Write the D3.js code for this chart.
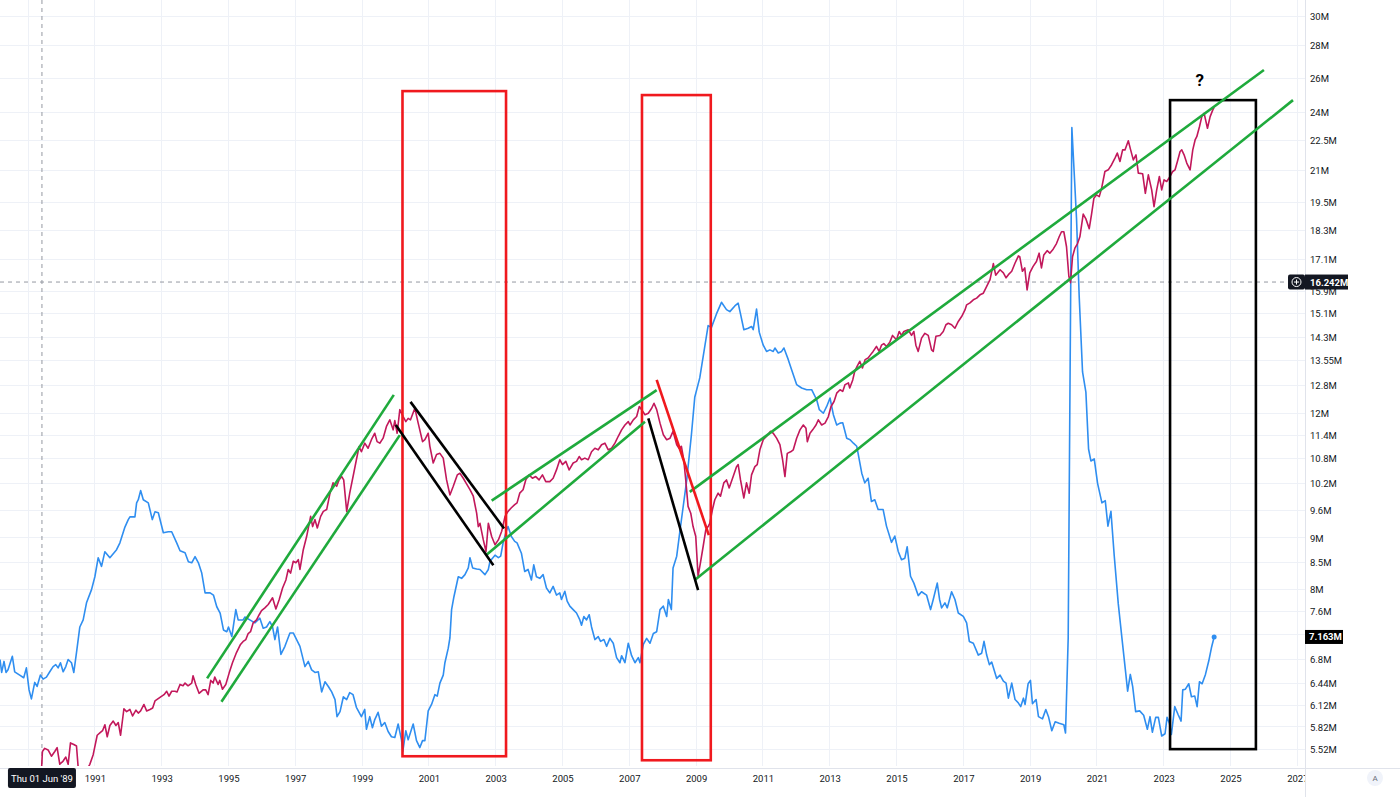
<!DOCTYPE html>
<html><head><meta charset="utf-8">
<script src="https://cdn.jsdelivr.net/npm/d3@7"></script>
<style>
html,body{margin:0;padding:0;background:#fff;}
svg{display:block;}
text{font-family:"Trebuchet MS",Roboto,"Liberation Sans",sans-serif;}
</style></head><body>
<svg id="chart" width="1400" height="797"></svg>
<script>
// ---------- data ----------
const xDomain = [1988.16, 2027.23];          // decimal years
const yDomain = [5.319, 31.13];               // millions, log scale
const xTickYears = [1989,1991,1993,1995,1997,1999,2001,2003,2005,2007,2009,2011,2013,2015,2017,2019,2021,2023,2025,2027];
const xHiddenLabels = [1989];                 // covered by the crosshair date badge
const yTickValues = [5.52,5.82,6.12,6.44,6.8,7.2,7.6,8,8.5,9,9.6,10.2,10.8,11.4,12,12.8,13.55,14.3,15.1,15.9,17.1,18.3,19.5,21,22.5,24,26,28,30];
const yHiddenLabels = [7.2];                  // covered by the last-value badge

const blueSeries = [
[1988.16,6.80],[1988.21,6.60],[1988.28,6.77],[1988.34,6.60],[1988.40,6.64],[1988.53,6.85],[1988.60,6.61],[1988.75,6.56],[1988.87,6.52],[1988.95,6.67],
[1989.03,6.34],[1989.10,6.21],[1989.20,6.45],[1989.27,6.39],[1989.37,6.56],[1989.45,6.50],[1989.55,6.53],[1989.65,6.61],[1989.75,6.69],[1989.83,6.72],[1989.90,6.67],[1989.97,6.75],
[1990.05,6.61],[1990.13,6.69],[1990.20,6.80],[1990.30,6.75],[1990.37,6.60],[1990.45,6.91],[1990.55,7.33],[1990.65,7.45],[1990.75,7.75],[1990.90,7.99],
[1991.00,8.23],[1991.10,8.60],[1991.20,8.43],[1991.30,8.72],[1991.45,8.60],[1991.65,8.76],[1991.75,8.90],[1991.90,9.23],
[1992.00,9.39],[1992.05,9.45],[1992.20,9.45],[1992.25,9.76],[1992.30,9.83],[1992.37,10.04],[1992.45,9.83],[1992.60,9.76],[1992.72,9.39],[1992.80,9.56],[1992.90,9.54],
[1993.05,9.11],[1993.20,9.13],[1993.30,9.13],[1993.45,8.90],[1993.55,8.74],[1993.70,8.70],[1993.80,8.52],[1993.90,8.50],
[1994.00,8.62],[1994.10,8.50],[1994.20,8.30],[1994.30,7.93],[1994.45,7.93],[1994.55,7.89],[1994.65,7.68],[1994.75,7.57],[1994.85,7.28],[1994.95,7.25],
[1995.00,7.33],[1995.10,7.17],[1995.22,7.63],[1995.29,7.45],[1995.44,7.45],[1995.49,7.50],[1995.64,7.45],[1995.79,7.40],[1995.94,7.48],
[1996.04,7.31],[1996.14,7.33],[1996.24,7.42],[1996.32,7.33],[1996.39,7.12],[1996.47,7.33],[1996.57,6.88],[1996.69,7.01],[1996.84,7.23],[1996.94,7.23],
[1997.04,7.12],[1997.14,7.01],[1997.29,6.69],[1997.39,6.77],[1997.49,6.64],[1997.59,6.60],[1997.69,6.61],[1997.79,6.31],[1997.89,6.46],[1997.99,6.39],
[1998.09,6.31],[1998.19,6.20],[1998.25,5.96],[1998.34,6.03],[1998.44,6.24],[1998.54,6.20],[1998.63,6.30],[1998.73,6.27],[1998.83,6.09],[1998.98,5.96],
[1999.08,6.06],[1999.13,5.79],[1999.23,5.96],[1999.31,5.81],[1999.38,5.92],[1999.48,6.02],[1999.58,5.83],[1999.68,5.88],[1999.78,5.76],[1999.88,5.69],[1999.98,5.68],
[2000.08,5.86],[2000.18,5.65],[2000.22,5.50],[2000.31,5.77],[2000.38,5.65],[2000.53,5.86],[2000.63,5.64],[2000.73,5.55],[2000.81,5.64],[2000.88,5.64],[2000.98,6.04],
[2001.08,6.13],[2001.18,6.27],[2001.25,6.25],[2001.33,6.44],[2001.43,6.56],[2001.48,6.75],[2001.58,6.98],[2001.63,7.15],[2001.68,7.63],[2001.75,7.86],[2001.88,8.23],[2001.98,8.20],
[2002.08,8.27],[2002.18,8.40],[2002.23,8.60],[2002.31,8.40],[2002.43,8.38],[2002.53,8.37],[2002.68,8.27],[2002.78,8.37],[2002.83,8.53],[2002.98,8.65],
[2003.08,8.60],[2003.15,8.63],[2003.23,8.93],[2003.33,9.17],[2003.37,9.24],[2003.47,9.03],[2003.57,8.93],[2003.64,8.90],[2003.77,8.69],[2003.87,8.33],[2003.97,8.37],
[2004.07,8.17],[2004.14,8.46],[2004.22,8.23],[2004.32,8.20],[2004.42,8.27],[2004.52,8.02],[2004.62,7.93],[2004.72,8.05],[2004.82,7.89],[2004.92,7.93],[2004.97,7.81],
[2005.07,7.96],[2005.14,7.78],[2005.22,7.69],[2005.32,7.63],[2005.42,7.57],[2005.52,7.45],[2005.57,7.36],[2005.64,7.51],[2005.72,7.45],[2005.80,7.54],[2005.87,7.33],[2005.97,7.12],
[2006.07,7.17],[2006.14,7.09],[2006.24,7.12],[2006.32,7.01],[2006.42,7.14],[2006.52,7.06],[2006.62,6.83],[2006.72,6.75],[2006.77,6.86],[2006.87,6.75],[2006.97,7.06],
[2007.07,6.86],[2007.17,6.75],[2007.27,6.83],[2007.32,6.75],[2007.42,7.04],[2007.52,7.14],[2007.62,7.06],[2007.72,7.22],[2007.82,7.25],[2007.92,7.63],
[2008.02,7.69],[2008.12,7.51],[2008.17,7.81],[2008.26,7.63],[2008.31,8.40],[2008.42,8.63],[2008.51,9.11],[2008.60,9.60],[2008.72,10.29],[2008.86,11.42],[2008.96,12.45],
[2009.11,13.02],[2009.25,13.93],[2009.36,14.69],[2009.46,14.63],[2009.61,15.09],[2009.76,15.50],[2009.91,15.24],
[2010.01,15.17],[2010.16,15.37],[2010.26,15.47],[2010.33,15.09],[2010.43,14.55],[2010.56,14.60],[2010.66,14.66],[2010.71,14.55],[2010.81,15.26],[2010.89,14.47],
[2011.01,14.04],[2011.11,13.84],[2011.21,13.89],[2011.31,13.84],[2011.36,13.95],[2011.46,13.79],[2011.56,13.84],[2011.63,13.95],[2011.76,13.58],[2011.86,13.27],
[2012.01,12.82],[2012.16,12.72],[2012.31,12.67],[2012.46,12.67],[2012.61,12.38],[2012.69,12.10],[2012.81,12.00],[2012.91,12.19],
[2013.01,12.43],[2013.11,11.96],[2013.21,11.68],[2013.31,11.73],[2013.39,11.74],[2013.51,11.33],[2013.61,11.29],[2013.71,11.20],[2013.81,11.12],[2013.85,10.94],[2013.96,10.45],
[2014.05,10.22],[2014.15,10.33],[2014.25,9.79],[2014.35,9.83],[2014.45,9.61],[2014.60,9.61],[2014.70,9.25],[2014.85,8.91],[2014.95,9.04],
[2015.05,8.73],[2015.15,8.56],[2015.25,8.59],[2015.32,8.82],[2015.42,8.24],[2015.52,8.11],[2015.65,7.88],[2015.75,7.95],[2015.90,7.89],
[2016.02,7.63],[2016.10,7.81],[2016.22,8.11],[2016.29,7.81],[2016.35,7.66],[2016.45,7.75],[2016.52,7.66],[2016.65,7.95],[2016.75,7.81],[2016.85,7.57],
[2017.00,7.51],[2017.10,7.40],[2017.18,7.09],[2017.30,7.06],[2017.45,6.87],[2017.55,6.90],[2017.62,7.09],[2017.70,6.87],[2017.78,6.72],[2017.85,6.76],
[2018.00,6.51],[2018.10,6.56],[2018.20,6.47],[2018.28,6.44],[2018.35,6.22],[2018.45,6.44],[2018.55,6.20],[2018.65,6.15],[2018.72,6.10],[2018.80,6.22],[2018.85,6.13],[2018.94,6.43],
[2019.01,6.48],[2019.07,6.14],[2019.18,6.20],[2019.25,5.96],[2019.37,5.93],[2019.47,6.06],[2019.55,5.96],[2019.65,5.77],[2019.75,5.89],[2019.87,5.87],
[2020.01,5.85],[2020.06,5.74],[2020.14,7.14],[2020.25,23.2],[2020.32,20.9],[2020.39,18.8],[2020.47,15.7],[2020.57,13.2],[2020.67,12.6],[2020.75,11.05],[2020.82,10.75],[2020.92,10.80],
[2021.02,10.21],[2021.15,9.76],[2021.25,9.81],[2021.33,9.25],[2021.42,9.57],[2021.52,8.63],[2021.64,7.73],[2021.75,7.14],[2021.85,6.65],[2021.92,6.32],
[2022.00,6.57],[2022.07,6.39],[2022.16,6.03],[2022.28,6.04],[2022.40,5.98],[2022.51,5.79],[2022.59,5.96],[2022.66,5.75],[2022.76,5.95],[2022.84,5.95],[2022.94,5.70],
[2023.04,5.73],[2023.10,5.95],[2023.17,5.87],[2023.23,5.72],[2023.33,6.10],[2023.43,5.99],[2023.52,5.90],[2023.57,6.34],[2023.65,6.35],[2023.75,6.43],[2023.83,6.24],[2023.93,6.25],
[2024.00,6.10],[2024.07,6.46],[2024.15,6.43],[2024.25,6.57],[2024.35,6.78],[2024.43,6.99],[2024.51,7.163]
];

const magentaSeries = [
[1989.40,5.25],[1989.43,5.50],[1989.50,5.54],[1989.60,5.52],[1989.70,5.44],[1989.80,5.50],[1989.87,5.55],[1989.95,5.34],
[1990.05,5.38],[1990.13,5.43],[1990.20,5.34],[1990.27,5.61],[1990.37,5.59],[1990.45,5.57],[1990.52,5.20],[1990.60,5.10],[1990.70,5.15],[1990.77,5.28],[1990.85,5.34],[1990.95,5.46],
[1991.07,5.71],[1991.15,5.74],[1991.23,5.77],[1991.30,5.85],[1991.37,5.69],[1991.45,5.84],[1991.55,5.90],[1991.63,5.84],[1991.70,5.88],[1991.77,5.71],[1991.87,6.07],[1991.95,6.03],
[1992.05,6.06],[1992.13,5.97],[1992.23,6.05],[1992.30,6.01],[1992.37,6.04],[1992.47,6.13],[1992.55,6.04],[1992.65,6.06],[1992.73,6.08],[1992.80,6.18],[1992.95,6.23],
[1993.07,6.27],[1993.15,6.32],[1993.22,6.25],[1993.30,6.32],[1993.40,6.32],[1993.46,6.31],[1993.55,6.42],[1993.64,6.40],[1993.70,6.44],[1993.79,6.40],[1993.90,6.44],[1993.94,6.55],
[1994.02,6.42],[1994.12,6.29],[1994.24,6.34],[1994.32,6.34],[1994.39,6.27],[1994.47,6.48],[1994.54,6.44],[1994.59,6.53],[1994.69,6.42],[1994.74,6.48],[1994.82,6.35],[1994.92,6.42],
[1995.02,6.59],[1995.12,6.75],[1995.24,6.91],[1995.36,7.04],[1995.44,7.09],[1995.52,7.12],[1995.59,7.22],[1995.66,7.25],[1995.74,7.40],[1995.84,7.45],[1995.92,7.54],[1995.99,7.61],
[1996.09,7.66],[1996.19,7.72],[1996.32,7.84],[1996.42,7.64],[1996.52,7.81],[1996.62,8.02],[1996.72,8.17],[1996.79,8.37],[1996.86,8.30],[1996.94,8.53],
[1997.02,8.50],[1997.09,8.56],[1997.14,8.37],[1997.24,8.76],[1997.34,9.03],[1997.46,9.46],[1997.52,9.24],[1997.59,9.39],[1997.66,9.21],[1997.76,9.46],[1997.84,9.57],[1997.94,9.61],
[1998.04,9.98],[1998.13,10.22],[1998.24,10.14],[1998.31,10.29],[1998.39,10.37],[1998.45,10.29],[1998.54,9.57],[1998.63,9.98],[1998.75,10.45],[1998.83,10.78],[1998.91,11.11],[1998.98,10.98],
[1999.08,11.20],[1999.18,11.07],[1999.28,11.29],[1999.38,11.46],[1999.45,11.24],[1999.53,11.20],[1999.63,11.33],[1999.73,11.64],[1999.83,11.82],[1999.93,11.55],[1999.98,11.80],
[2000.05,11.46],[2000.13,12.10],[2000.23,11.91],[2000.31,11.77],[2000.38,11.86],[2000.45,11.82],[2000.58,12.14],[2000.68,11.73],[2000.81,11.24],[2000.88,11.29],[2000.98,11.46],
[2001.03,11.12],[2001.13,10.70],[2001.23,10.91],[2001.33,10.94],[2001.43,10.82],[2001.53,10.29],[2001.63,9.94],[2001.73,10.14],[2001.85,10.41],[2001.93,10.45],
[2002.03,10.33],[2002.11,10.22],[2002.23,10.06],[2002.33,9.91],[2002.43,9.53],[2002.48,9.24],[2002.53,9.31],[2002.63,8.96],[2002.71,8.72],[2002.78,9.31],[2002.88,9.03],[2002.98,8.86],
[2003.08,8.96],[2003.18,9.14],[2003.28,9.46],[2003.37,9.57],[2003.47,9.65],[2003.57,9.72],[2003.64,9.76],[2003.72,9.98],[2003.82,10.06],[2003.90,10.29],
[2004.00,10.41],[2004.10,10.33],[2004.20,10.37],[2004.30,10.29],[2004.40,10.41],[2004.50,10.25],[2004.62,10.25],[2004.72,10.33],[2004.82,10.53],[2004.92,10.78],
[2005.00,10.66],[2005.10,10.74],[2005.20,10.53],[2005.32,10.70],[2005.42,10.74],[2005.50,10.86],[2005.57,10.78],[2005.67,10.82],[2005.77,10.78],[2005.87,10.98],[2005.97,11.07],
[2006.07,11.03],[2006.17,11.16],[2006.27,11.20],[2006.37,11.03],[2006.47,11.07],[2006.57,11.20],[2006.67,11.38],[2006.77,11.55],[2006.87,11.68],[2006.97,11.77],
[2007.02,11.68],[2007.12,11.82],[2007.22,11.91],[2007.30,12.19],[2007.37,12.10],[2007.47,11.96],[2007.57,12.00],[2007.67,12.14],[2007.74,12.28],[2007.82,12.10],[2007.92,11.73],
[2008.02,11.42],[2008.12,11.29],[2008.22,11.33],[2008.31,11.51],[2008.42,11.16],[2008.49,11.07],[2008.56,11.12],[2008.63,10.78],[2008.69,10.29],[2008.76,9.68],[2008.84,9.53],[2008.91,9.24],[2008.99,9.03],
[2009.06,8.24],[2009.13,8.50],[2009.21,8.82],[2009.29,9.17],[2009.36,9.24],[2009.41,9.31],[2009.49,9.61],[2009.56,9.83],[2009.66,9.98],[2009.73,9.91],[2009.83,10.22],[2009.91,10.29],[2009.99,10.10],
[2010.11,10.37],[2010.21,10.61],[2010.26,10.66],[2010.33,10.29],[2010.43,9.87],[2010.51,10.22],[2010.59,9.98],[2010.66,10.41],[2010.76,10.61],[2010.83,10.66],[2010.91,11.03],
[2011.01,11.29],[2011.11,11.38],[2011.23,11.51],[2011.31,11.46],[2011.41,11.33],[2011.51,11.16],[2011.59,10.78],[2011.66,10.37],[2011.73,10.94],[2011.83,10.98],[2011.91,11.03],
[2012.01,11.33],[2012.11,11.55],[2012.21,11.68],[2012.29,11.59],[2012.33,11.24],[2012.41,11.46],[2012.49,11.55],[2012.59,11.68],[2012.66,11.82],[2012.76,11.68],[2012.86,11.73],[2012.96,11.91],
[2013.04,12.19],[2013.13,12.33],[2013.21,12.57],[2013.31,12.67],[2013.39,12.62],[2013.46,12.82],[2013.56,12.87],[2013.60,12.72],[2013.69,12.96],[2013.75,13.22],[2013.82,13.37],[2013.90,13.53],[2013.98,13.32],
[2014.06,13.58],[2014.15,13.63],[2014.22,13.73],[2014.30,13.84],[2014.40,14.00],[2014.48,13.84],[2014.55,14.04],[2014.62,14.09],[2014.70,14.00],[2014.80,14.14],[2014.88,14.36],
[2015.00,14.22],[2015.08,14.49],[2015.15,14.36],[2015.22,14.49],[2015.35,14.55],[2015.45,14.36],[2015.52,14.49],[2015.58,14.04],[2015.65,13.84],[2015.75,14.27],[2015.85,14.43],[2015.95,14.36],
[2016.05,13.89],[2016.10,13.84],[2016.18,14.33],[2016.30,14.36],[2016.40,14.49],[2016.48,14.72],[2016.55,14.77],[2016.65,14.72],[2016.75,14.60],[2016.85,14.83],[2016.95,15.00],
[2017.05,15.23],[2017.10,15.41],[2017.20,15.48],[2017.30,15.59],[2017.40,15.65],[2017.50,15.77],[2017.60,15.83],[2017.70,16.08],[2017.80,16.33],[2017.90,16.95],[2017.97,16.50],
[2018.10,16.71],[2018.20,16.59],[2018.28,16.40],[2018.35,16.52],[2018.45,16.65],[2018.55,16.97],[2018.65,17.25],[2018.69,17.22],[2018.77,16.65],[2018.84,16.78],[2018.91,15.95],[2018.99,16.59],
[2019.09,16.84],[2019.19,17.03],[2019.27,17.36],[2019.34,16.78],[2019.41,17.29],[2019.51,17.46],[2019.59,17.36],[2019.69,17.52],[2019.79,17.75],[2019.87,18.03],[2019.94,18.24],
[2020.01,18.24],[2020.09,17.62],[2020.16,16.46],[2020.21,16.22],[2020.27,17.22],[2020.34,17.56],[2020.42,17.75],[2020.49,18.03],[2020.59,19.00],[2020.67,18.79],[2020.77,18.37],[2020.84,19.00],[2020.91,19.71],[2020.99,19.86],
[2021.07,19.78],[2021.14,20.16],[2021.24,20.96],[2021.34,21.04],[2021.44,21.29],[2021.54,21.62],[2021.61,21.87],[2021.69,21.45],[2021.77,22.03],[2021.84,22.03],[2021.94,22.50],
[2022.01,22.03],[2022.09,21.53],[2022.17,21.78],[2022.24,20.88],[2022.37,20.85],[2022.45,19.93],[2022.54,20.80],[2022.64,20.09],[2022.71,19.33],[2022.79,20.09],[2022.87,20.72],[2022.94,20.09],
[2023.01,20.56],[2023.09,20.48],[2023.19,20.72],[2023.27,20.96],[2023.34,21.04],[2023.41,21.45],[2023.49,21.95],[2023.54,22.03],[2023.61,21.78],[2023.69,21.37],[2023.79,21.04],[2023.87,22.03],[2023.94,22.54],[2023.99,22.71],
[2024.07,23.24],[2024.14,23.79],[2024.21,23.97],[2024.31,23.16],[2024.39,23.79],[2024.47,24.16],[2024.51,24.30]
];

// drawn annotations: [[year, value], [year, value]]
const greenLines = [
  [[1994.36,6.51],[1999.95,12.52]],
  [[1994.79,6.17],[2000.13,11.41]],
  [[2002.88,9.81],[2007.82,12.66]],
  [[2002.71,8.65],[2007.47,11.77]],
  [[2008.81,10.01],[2026.00,26.49]],
  [[2008.96,8.17],[2026.87,24.71]]
];
const blackLines = [
  [[2000.45,12.32],[2003.25,9.20]],
  [[2000.01,11.68],[2002.93,8.45]],
  [[2007.57,11.86],[2009.06,7.98]]
];
const redLines = [
  [[2007.82,12.96],[2009.38,9.06]]
];
// rectangles: [yearStart, yearEnd, valueTop, valueBottom]
const redRects = [
  [2000.21,2003.31,25.23,5.44],
  [2007.38,2009.44,25.00,5.39]
];
const blackRects = [
  [2023.19,2025.76,24.71,5.53]
];
const questionMark = [2024.08,25.88,"?"];
const crosshair = {year:1989.416, value:16.242, dateLabel:"Thu 01 Jun '89", valueLabel:"16.242M"};
const lastBlueLabel = "7.163M";

// ---------- drawing ----------
const W = 1305, H = 766;
const svg = d3.select('#chart');
const x = d3.scaleLinear().domain(xDomain).range([0, W]);
const y = d3.scaleLog().domain(yDomain).range([H, 0]);

svg.append('defs').append('clipPath').attr('id','plotclip')
  .append('rect').attr('x',0).attr('y',0).attr('width',W).attr('height',H);

// grid
const grid = svg.append('g');
grid.selectAll('line.h').data(yTickValues).join('line')
  .attr('x1',0).attr('x2',W).attr('y1',d=>y(d)).attr('y2',d=>y(d))
  .attr('stroke','#eef1f7').attr('stroke-width',1).attr('shape-rendering','crispEdges');
grid.selectAll('line.v').data(xTickYears).join('line')
  .attr('x1',d=>x(d)).attr('x2',d=>x(d)).attr('y1',0).attr('y2',H)
  .attr('stroke','#eef1f7').attr('stroke-width',1).attr('shape-rendering','crispEdges');

const plot = svg.append('g').attr('clip-path','url(#plotclip)');

// crosshair
plot.append('line').attr('x1',0).attr('x2',W-18).attr('y1',y(crosshair.value)).attr('y2',y(crosshair.value))
  .attr('stroke','#9598a1').attr('stroke-dasharray','4,4').attr('stroke-width',1);
plot.append('line').attr('x1',x(crosshair.year)).attr('x2',x(crosshair.year)).attr('y1',0).attr('y2',H)
  .attr('stroke','#9598a1').attr('stroke-dasharray','4,4').attr('stroke-width',1);

const line = d3.line().x(d=>x(d[0])).y(d=>y(d[1]));

plot.append('path').datum(blueSeries).attr('d',line)
  .attr('fill','none').attr('stroke','#2f8ef0').attr('stroke-width',1.6).attr('stroke-linejoin','round');
plot.append('path').datum(magentaSeries).attr('d',line)
  .attr('fill','none').attr('stroke','#c2185b').attr('stroke-width',1.6).attr('stroke-linejoin','round');

// last point dot
const lastB = blueSeries[blueSeries.length-1];
plot.append('circle').attr('cx',x(lastB[0])).attr('cy',y(lastB[1])).attr('r',2.5).attr('fill','#2f8ef0');

// rectangles
function drawRects(data, color){
  plot.selectAll(null).data(data).join('rect')
    .attr('x',d=>x(d[0])).attr('y',d=>y(d[2]))
    .attr('width',d=>x(d[1])-x(d[0])).attr('height',d=>y(d[3])-y(d[2]))
    .attr('fill','none').attr('stroke',color).attr('stroke-width',2.6);
}
drawRects(redRects,'#f0191e');
drawRects(blackRects,'#000000');

function drawLines(data, color){
  plot.selectAll(null).data(data).join('line')
    .attr('x1',d=>x(d[0][0])).attr('y1',d=>y(d[0][1]))
    .attr('x2',d=>x(d[1][0])).attr('y2',d=>y(d[1][1]))
    .attr('stroke',color).attr('stroke-width',2.6);
}
drawLines(greenLines,'#1faa3c');
drawLines(blackLines,'#000000');
drawLines(redLines,'#f0191e');

plot.append('text').attr('x',x(questionMark[0])).attr('y',y(questionMark[1])+6)
  .attr('text-anchor','middle').attr('font-size',17).attr('font-weight','bold').attr('fill','#000')
  .text(questionMark[2]);

// axes panels
svg.append('line').attr('x1',0).attr('x2',1400).attr('y1',H+2.5).attr('y2',H+2.5)
  .attr('stroke','#e0e3eb').attr('stroke-width',1);

const xAxis = d3.axisBottom(x).tickValues(xTickYears).tickFormat(d=>String(d)).tickSize(0).tickPadding(6);
const gx = svg.append('g').attr('transform',`translate(0,${H+3})`).call(xAxis);
gx.select('.domain').remove();
gx.selectAll('.tick').filter(d=>xHiddenLabels.includes(d)).select('text').remove();
gx.selectAll('text').attr('fill','#131722').attr('font-size',9.5)
  .attr('font-family','"Trebuchet MS",Roboto,sans-serif');

// right panel background (clips last x label)
svg.append('rect').attr('x',W).attr('y',0).attr('width',1400-W).attr('height',797).attr('fill','#fff');
svg.append('line').attr('x1',W+0.5).attr('x2',W+0.5).attr('y1',0).attr('y2',797)
  .attr('stroke','#e0e3eb').attr('stroke-width',1);
svg.append('line').attr('x1',W).attr('x2',1400).attr('y1',H+2.5).attr('y2',H+2.5)
  .attr('stroke','#e0e3eb').attr('stroke-width',1);

const yAxis = d3.axisRight(y).tickValues(yTickValues).tickFormat(d=>d+'M').tickSize(0).tickPadding(5);
const gy = svg.append('g').attr('transform',`translate(${W},0)`).call(yAxis);
gy.select('.domain').remove();
gy.selectAll('.tick').filter(d=>yHiddenLabels.includes(d)).select('text').remove();
gy.selectAll('text').attr('fill','#131722').attr('font-size',9.5)
  .attr('font-family','"Trebuchet MS",Roboto,sans-serif');

// badges
const cy = y(crosshair.value);
svg.append('rect').attr('x',W-17).attr('y',cy-7.5).attr('width',17).attr('height',15).attr('rx',2).attr('fill','#131722');
svg.append('circle').attr('cx',W-8.5).attr('cy',cy).attr('r',4.5).attr('fill','none').attr('stroke','#fff').attr('stroke-width',1);
svg.append('line').attr('x1',W-11).attr('x2',W-6).attr('y1',cy).attr('y2',cy).attr('stroke','#fff').attr('stroke-width',1);
svg.append('line').attr('x1',W-8.5).attr('x2',W-8.5).attr('y1',cy-2.5).attr('y2',cy+2.5).attr('stroke','#fff').attr('stroke-width',1);
svg.append('rect').attr('x',W).attr('y',cy-7.5).attr('width',43).attr('height',15).attr('fill','#131722');
svg.append('text').attr('x',W+5).attr('y',cy+3.5).attr('fill','#fff').attr('font-size',9.5).attr('font-weight','bold').text(crosshair.valueLabel);

const ly = y(lastB[1]);
svg.append('rect').attr('x',W).attr('y',ly-7).attr('width',38).attr('height',14).attr('fill','#000');
svg.append('text').attr('x',W+4).attr('y',ly+3.5).attr('fill','#fff').attr('font-size',9.5).attr('font-weight','bold').text(lastBlueLabel);

// crosshair date label
const cxp = x(crosshair.year);
svg.append('rect').attr('x',cxp-34).attr('y',H+2).attr('width',68).attr('height',20).attr('rx',2).attr('fill','#131722');
svg.append('text').attr('x',cxp).attr('y',H+15.5).attr('text-anchor','middle').attr('fill','#fff').attr('font-size',9.5).text(crosshair.dateLabel);

// "A" button
svg.append('circle').attr('cx',1375).attr('cy',778).attr('r',8).attr('fill','#f0f3fa');
svg.append('text').attr('x',1375).attr('y',781).attr('text-anchor','middle').attr('font-size',8).attr('fill','#6a6d78').text('A');
</script>
</body></html>
